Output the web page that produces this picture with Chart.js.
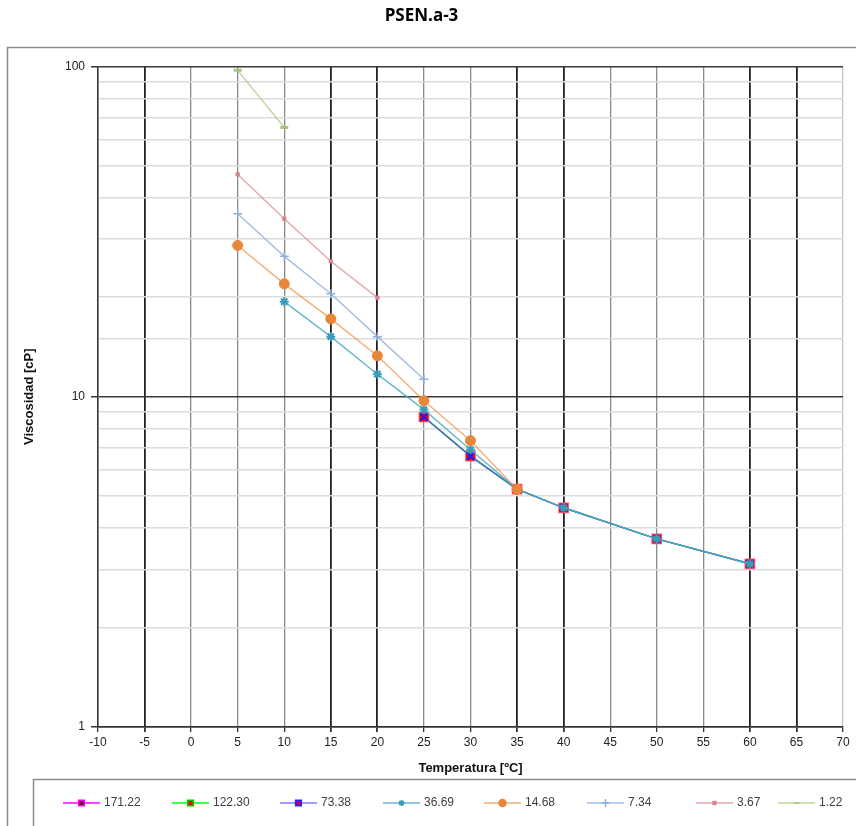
<!DOCTYPE html>
<html>
<head>
<meta charset="utf-8">
<title>PSEN.a-3</title>
<script src="https://cdn.jsdelivr.net/npm/chart.js@4.4.1/dist/chart.umd.min.js"></script>
<style>
  html, body { margin: 0; padding: 0; background: #fff; }
  canvas { display: block; }
</style>
</head>
<body>
<canvas id="chart" width="856" height="826"></canvas>
<script>
// temperatures [ºC] shared by every series
const temps = [5, 10, 15, 20, 25, 30, 35, 40, 50, 60];

// viscosity [cP] per shear rate (null = no reading)
const v171_22 = [null, null, null, null, 8.68, 6.61, 5.25, 4.61, 3.71, 3.12];
const v122_30 = [null, null, null, null, 8.68, 6.61, 5.25, 4.61, 3.71, 3.12];
const v73_38  = [null, null, null, null, 8.68, 6.61, 5.25, 4.61, 3.71, 3.12];
const v36_69  = [null, 19.4, 15.2, 11.7, 9.14, 6.91, 5.25, 4.61, 3.71, 3.12];
const v14_68  = [28.7, 21.96, 17.2, 13.3, 9.72, 7.36, 5.25, null, null, null];
const v7_34   = [35.8, 26.6, 20.5, 15.2, 11.3, null, null, null, null, null];
const v3_67   = [47.1, 34.6, 25.7, 19.95, null, null, null, null, null, null];
const v1_22   = [97.3, 65.3, null, null, null, null, null, null, null, null];

const seriesNames = ["171.22", "122.30", "73.38", "36.69", "14.68", "7.34", "3.67", "1.22"];
const xTicks = [-10, 70, 5];      // min, max, step
const yMajor = [1, 10, 100];

const pts = arr => temps.map((t, i) => ({ x: t, y: arr[i] }));

// line colour, marker style, marker fill, marker border, radius, border width
const styles = [
  { line: "#ff00ff", ps: "rect", bg: "#c01040", bd: "#ff5577", r: 6.5, bw: 1.5, lg: { bg: "#6b1030", bd: "#ff00ff", r: 4 } },
  { line: "#00ff00", ps: "rect", bg: "#ff0000", bd: "#ff0000", r: 5.5, bw: 1, lg: { bg: "#ff0000", bd: "#00cc00", r: 4 } },
  { line: "rgba(80,80,255,.75)", ps: "crossRot", bg: "#0000ff", bd: "#1a1aff", r: 5, bw: 2.2, lg: { ps: "rect", bg: "#b0004a", bd: "#2222ff", r: 4 } },
  { line: "rgba(75,172,198,.85)", ps: "star", bg: "#3a9cb8", bd: "#3a9cb8", r: 4.5, bw: 2, lg: { r: 3 } },
  { line: "rgba(238,140,60,.7)", ps: "circle", bg: "#e8873a", bd: "#e8873a", r: 5, bw: 1, lg: { r: 3.5 } },
  { line: "rgba(149,179,215,.85)", ps: "cross", bg: "#95b3d7", bd: "#8fb0da", r: 4.5, bw: 1.5, lg: { r: 4 } },
  { line: "rgba(217,140,140,.75)", ps: "rect", bg: "#d98490", bd: "#d98490", r: 2.3, bw: 1, lg: { r: 2 } },
  { line: "rgba(180,205,140,.85)", ps: "line", bg: "#a8c47c", bd: "#a8c47c", r: 4, bw: 3, lg: { r: 3 } }
];

const values = [v171_22, v122_30, v73_38, v36_69, v14_68, v7_34, v3_67, v1_22];

const datasets = values.map((arr, i) => ({
  label: seriesNames[i],
  data: pts(arr),
  borderColor: styles[i].line,
  borderWidth: 1.4,
  pointStyle: styles[i].ps,
  pointBackgroundColor: styles[i].bg,
  pointBorderColor: styles[i].bd,
  pointRadius: styles[i].r,
  pointBorderWidth: styles[i].bw,
  pointHoverRadius: styles[i].r,
  fill: false,
  tension: 0,
  spanGaps: false,
  order: values.length - 1 - i   // first series at the bottom
}));

const darkX = [-5, 15, 20, 35, 40, 60, 65];
const isMajor = v => yMajor.includes(v);

// frame, legend box and legend entries
const framePlugin = {
  id: "frame",
  beforeDraw(chart) {
    const c = chart.ctx;
    c.save();
    c.fillStyle = "#fff";
    c.fillRect(0, 0, chart.width, chart.height);
    c.strokeStyle = "#8c8c8c";
    c.lineWidth = 1.5;
    c.strokeRect(7.5, 47.5, 900, 900);
    c.restore();
  },
  afterDraw(chart) {
    const c = chart.ctx;
    c.save();
    c.fillStyle = "#fff";
    c.fillRect(33, 779, 900, 100);
    c.strokeStyle = "#8c8c8c";
    c.lineWidth = 1.5;
    c.strokeRect(33.5, 779.5, 900, 100);
    const starts = [63, 172, 280, 383, 484, 587, 696, 778];
    const y = 803;
    c.font = "12px 'Liberation Sans Narrow', 'Liberation Sans', Arial, sans-serif";
    c.textBaseline = "middle";
    seriesNames.forEach((name, i) => {
      const s = styles[i];
      const x0 = starts[i];
      c.strokeStyle = s.line;
      c.lineWidth = 1.5;
      c.beginPath();
      c.moveTo(x0, y);
      c.lineTo(x0 + 37, y);
      c.stroke();
      c.fillStyle = s.lg.bg || s.bg;
      c.strokeStyle = s.lg.bd || s.bd;
      Chart.helpers.drawPoint(c, {
        pointStyle: s.lg.ps || s.ps,
        radius: s.lg.r,
        rotation: 0,
        borderWidth: s.ps === "line" ? 2 : 1.2
      }, x0 + 18.5, y);
      c.fillStyle = "#404040";
      c.fillText(name, x0 + 41, y);
    });
    c.restore();
  }
};

new Chart(document.getElementById("chart"), {
  type: "line",
  data: { datasets },
  plugins: [framePlugin],
  options: {
    responsive: false,
    animation: false,
    layout: { padding: { top: 0, right: 13, bottom: 0, left: 0 } },
    plugins: {
      legend: { display: false },
      tooltip: { enabled: false },
      title: {
        display: true,
        text: "PSEN.a-3",
        color: "#000",
        font: { family: "'Open Sans', 'Liberation Sans', sans-serif", size: 17, weight: "bold" },
        padding: { top: 6, bottom: 40 }
      }
    },
    scales: {
      x: {
        type: "linear",
        min: xTicks[0],
        max: xTicks[1],
        ticks: {
          stepSize: xTicks[2],
          color: "#222",
          font: { family: "'Liberation Sans', Arial, sans-serif", size: 12 },
          padding: 3,
          maxRotation: 0
        },
        grid: {
          color: ctx => ctx.tick.value === 70 ? "#c4c4c4" : (darkX.includes(ctx.tick.value) ? "#222" : "#8a8a8a"),
          lineWidth: ctx => darkX.includes(ctx.tick.value) ? 1.8 : 1.3,
          tickLength: 5,
          tickColor: "#333"
        },
        border: { color: "#333", width: 1.5 },
        title: {
          display: true,
          text: "Temperatura [ºC]",
          color: "#111",
          font: { family: "'Liberation Sans', Arial, sans-serif", size: 13, weight: "bold" },
          padding: { top: 0, bottom: 50 }
        },
        afterFit: s => { s.height = 99; }
      },
      y: {
        type: "logarithmic",
        min: 1,
        max: 100,
        ticks: {
          autoSkip: false,
          color: "#222",
          font: { family: "'Liberation Sans', Arial, sans-serif", size: 12 },
          padding: 6,
          callback: v => isMajor(v) ? String(v) : ""
        },
        grid: {
          color: ctx => isMajor(ctx.tick.value) ? "#3a3a3a" : "#dcdcdc",
          lineWidth: ctx => isMajor(ctx.tick.value) ? 1.5 : 1.6,
          tickLength: 7,
          tickColor: ctx => isMajor(ctx.tick.value) ? "#333" : "rgba(0,0,0,0)"
        },
        border: { color: "#333", width: 1.5 },
        title: {
          display: true,
          text: "Viscosidad [cP]",
          color: "#111",
          font: { family: "'Liberation Sans', Arial, sans-serif", size: 13, weight: "bold" },
          padding: { top: 22, bottom: 0 }
        },
        afterFit: s => { s.width = 98; }
      }
    }
  }
});
</script>
</body>
</html>
